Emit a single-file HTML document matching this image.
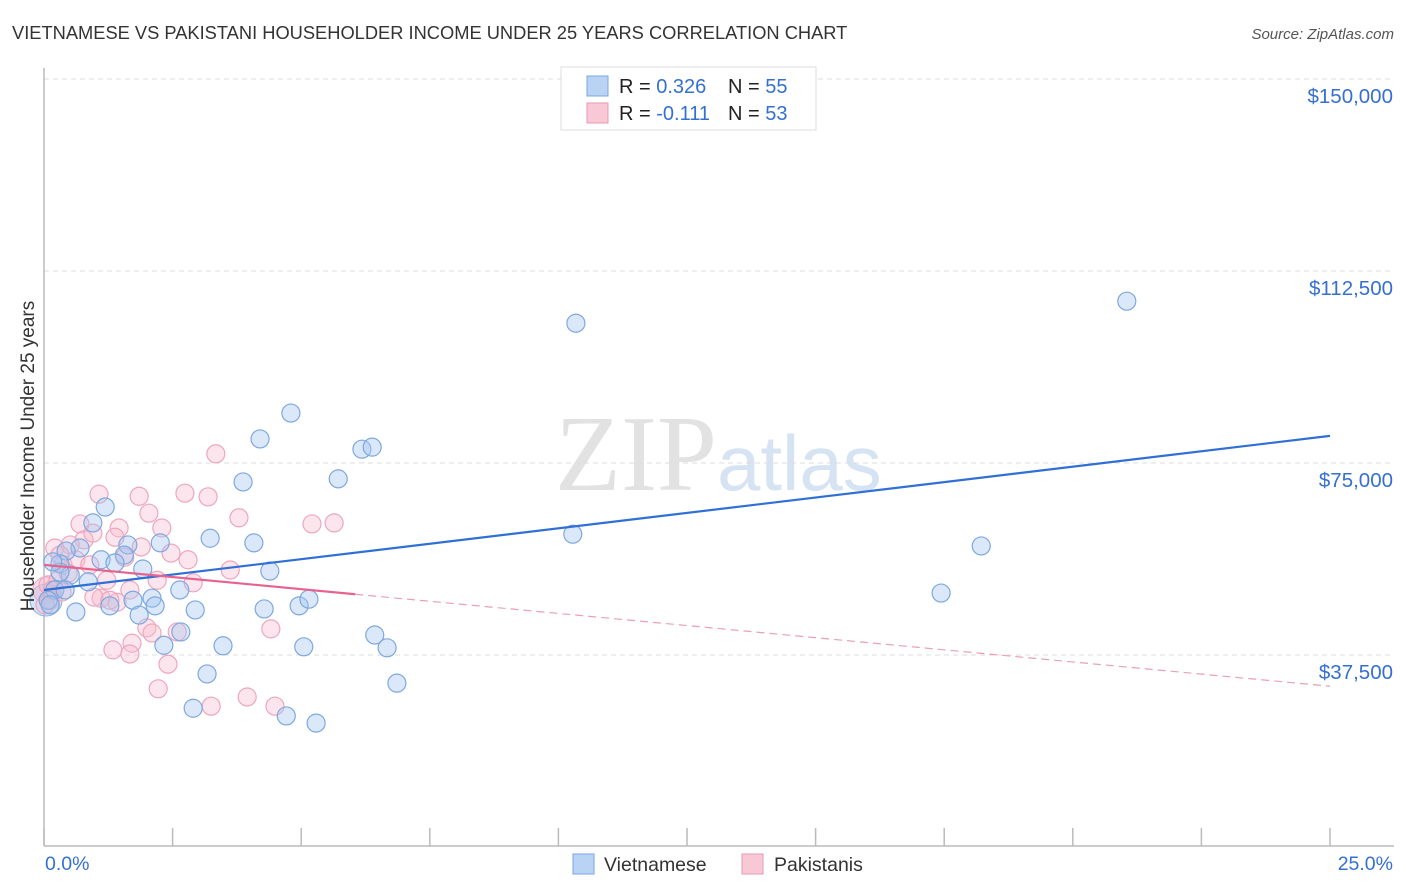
<!DOCTYPE html>
<html><head><meta charset="utf-8"><style>
body{margin:0;background:#fff;font-family:"Liberation Sans",sans-serif;}
svg{display:block}
</style></head><body>
<svg id="chart" width="1406" height="892">
<text x="12" y="39" font-size="18.3" fill="#333">VIETNAMESE VS PAKISTANI HOUSEHOLDER INCOME UNDER 25 YEARS CORRELATION CHART</text>
<text x="1394" y="39" font-size="15" fill="#555" font-style="italic" text-anchor="end">Source: ZipAtlas.com</text>
<text x="555" y="490" font-size="108" fill="#e2e2e2" font-family="Liberation Serif,serif">ZIP<tspan fill="#d6e3f3" font-family="Liberation Sans,sans-serif" font-size="78">atlas</tspan></text>
<g id="grid"></g>
<g id="axes"></g>
<g id="points"></g>
<g id="trends"></g>
<text transform="translate(34,456) rotate(-90)" font-size="19" fill="#333" text-anchor="middle">Householder Income Under 25 years</text>
<g>
<rect x="561" y="67" width="255" height="63" fill="#fff" stroke="#ddd"/>
<rect x="587" y="76" width="21" height="20" fill="#b9d3f5" stroke="#7aa6e0"/>
<rect x="587" y="103" width="21" height="20" fill="#f9c8d6" stroke="#ea97b1"/>
<text x="619" y="93" font-size="20" fill="#222">R = <tspan fill="#3570d0">0.326</tspan></text>
<text x="728" y="93" font-size="20" fill="#222">N = <tspan fill="#3570d0">55</tspan></text>
<text x="619" y="120" font-size="20" fill="#222">R = <tspan fill="#3570d0"> -0.111</tspan></text>
<text x="728" y="120" font-size="20" fill="#222">N = <tspan fill="#3570d0">53</tspan></text>
</g>
<g>
<rect x="573" y="854" width="21" height="20" fill="#b9d3f5" stroke="#7aa6e0"/>
<text x="604" y="871" font-size="19.5" fill="#333">Vietnamese</text>
<rect x="742" y="854" width="21" height="20" fill="#f9c8d6" stroke="#ea97b1"/>
<text x="774" y="871" font-size="19.5" fill="#333">Pakistanis</text>
</g>
</svg>
<script>
const yTicks=[37500,75000,112500,150000];
const yTickLabels=["$37,500","$75,000","$112,500","$150,000"];
const xTickLabels=["0.0%","25.0%"];
const vietX=[21.05,10.34,4.80,4.20,6.18,6.38,5.72,3.87,10.28,18.22,17.44,3.23,4.08,2.26,1.19,0.95,0.70,0.43,1.63,1.56,1.11,1.38,1.92,4.39,0.31,0.86,0.21,0.62,1.28,1.73,2.10,2.16,2.64,2.94,2.66,1.85,2.33,3.48,4.28,4.96,5.15,6.43,6.67,5.05,3.17,6.86,2.90,4.71,5.29,0.08,0.51,0.31,0.17,0.41,0.12];
const vietY=[106600,102300,84750,79700,77700,78100,71900,71300,61100,58800,49600,60300,59400,59400,66400,63300,58400,57800,59000,57000,56100,55500,54300,53900,55300,51800,50200,45900,47100,48200,48600,47100,50200,46300,42000,45300,39400,39300,46500,47100,48400,41400,38900,39100,33800,32000,27100,25600,24200,48200,53100,53700,55700,50200,47300];
const pakX=[3.34,1.07,1.85,2.74,3.19,3.79,2.04,5.21,5.64,0.70,1.46,2.29,0.78,0.95,1.38,1.89,2.47,2.80,1.57,0.21,0.37,2.90,2.20,1.22,1.67,1.11,0.97,1.42,0.62,0.51,0.31,3.62,2.00,2.10,2.59,4.41,1.71,1.34,1.67,2.41,2.22,3.95,3.25,4.49,0.08,0.12,0.27,0.47,0.89,0.02,0.16,0.35,1.28];
const pakY=[76800,68900,68500,69100,68400,64300,65200,63100,63300,63100,62300,62300,60000,61300,60500,58600,57400,56100,56600,58400,55100,51600,52100,52100,50200,48600,48800,47800,56100,59000,57000,54100,42800,41800,42000,42600,39800,38500,37700,35700,30900,29300,27500,27500,51200,48200,52100,53500,55100,47300,50200,49800,48200];
const vietTrend=[50200,80300];
const pakTrend=[55100,31400];
const pakSolidEnd=6.05;

const NS="http://www.w3.org/2000/svg";
const xs=v=>44+v/25*1286;
const ys=v=>847-v/37500*192;
function mk(tag,attrs,parent){const e=document.createElementNS(NS,tag);for(const k in attrs)e.setAttribute(k,attrs[k]);parent.appendChild(e);return e;}
const grid=document.getElementById('grid'),axes=document.getElementById('axes'),pts=document.getElementById('points'),tr=document.getElementById('trends');
yTicks.forEach((t,i)=>{
 const l=mk('line',{x1:44,x2:1394,y1:ys(t),y2:ys(t),stroke:'#ddd','stroke-dasharray':'5,4'},grid);
 
 
 const tx=mk('text',{x:1393,y:ys(t)+24,'font-size':20.5,fill:'#3570d0','text-anchor':'end'},axes);
 tx.textContent=yTickLabels[i];
 
 
});
const ya=mk('line',{x1:44,x2:44,y1:68,y2:846,stroke:'#bbb','stroke-width':1.5},axes);


const xa=mk('line',{x1:44,x2:1394,y1:846,y2:846,stroke:'#bbb','stroke-width':1.5},axes);


for(let i=0;i<=10;i++){const t=mk('line',{x1:xs(i*2.5),x2:xs(i*2.5),y1:828,y2:846,stroke:'#bbb','stroke-width':1.5},axes);
 
 }
[[0,'start',45],[25,'end',1393]].forEach((d,i)=>{const t=mk('text',{x:d[2],y:870,'font-size':19.5,fill:'#3570d0','text-anchor':d[1]},axes);t.textContent=xTickLabels[i];
 
 });
mk('circle',{cx:46,cy:600,r:16,fill:'rgba(160,195,240,0.45)',stroke:'#8ab0e4'},pts);
mk('circle',{cx:46,cy:590,r:13,fill:'rgba(245,180,200,0.45)',stroke:'#eea6bd'},pts);
pakX.forEach((x,i)=>{const c=mk('circle',{cx:xs(x),cy:ys(pakY[i]),r:9,fill:'rgba(248,190,208,0.4)',stroke:'#eea6bd','stroke-width':1.2},pts);
 
 });
vietX.forEach((x,i)=>{const c=mk('circle',{cx:xs(x),cy:ys(vietY[i]),r:9,fill:'rgba(165,198,240,0.4)',stroke:'#7ea8e0','stroke-width':1.2},pts);
 
 });
const vl=mk('line',{x1:xs(0),y1:ys(vietTrend[0]),x2:xs(25),y2:ys(vietTrend[1]),stroke:'#2f6fd6','stroke-width':2.2},tr);


const pAt=x=>pakTrend[0]+(pakTrend[1]-pakTrend[0])*x/25;
const pl=mk('line',{x1:xs(0),y1:ys(pakTrend[0]),x2:xs(pakSolidEnd),y2:ys(pAt(pakSolidEnd)),stroke:'#e8628e','stroke-width':2.2},tr);


const pd=mk('line',{x1:xs(pakSolidEnd),y1:ys(pAt(pakSolidEnd)),x2:xs(25),y2:ys(pakTrend[1]),stroke:'#e8a0b8','stroke-width':1.2,'stroke-dasharray':'8,5'},tr);


</script>
</body></html>
